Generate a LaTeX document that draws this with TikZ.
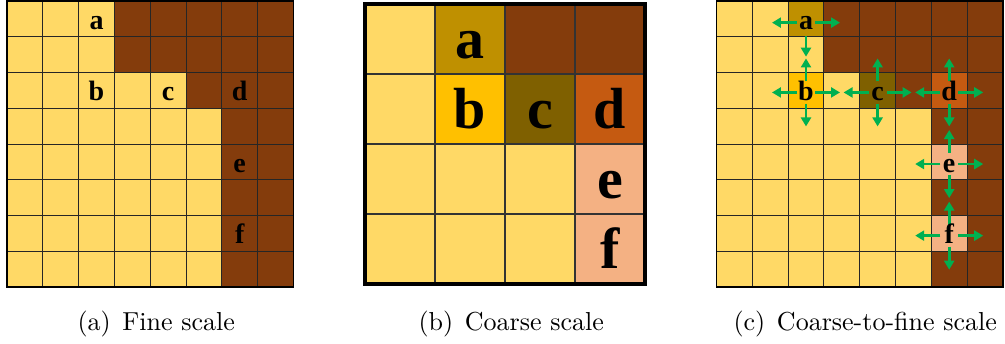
\documentclass[tikz,border=0pt]{standalone}
\usepackage{fontspec}
\newfontfamily\cellfont{Liberation Serif}
\usetikzlibrary{arrows.meta,calc}
\definecolor{ylw}{HTML}{FFD966}
\definecolor{brn}{HTML}{843C0C}
\definecolor{aclr}{HTML}{BF9000}
\definecolor{bclr}{HTML}{FFC000}
\definecolor{cclr}{HTML}{7F6000}
\definecolor{dclr}{HTML}{C55A11}
\definecolor{eclr}{HTML}{F4B183}
\definecolor{grn}{HTML}{00B050}
\begin{document}
\begin{tikzpicture}[x=1pt,y=-1pt,
  gridline/.style={draw=black!85, line width=0.9pt},
  frame/.style={draw=black, line width=1.6pt},
  letsmall/.style={font=\cellfont\bfseries\fontsize{28}{30}\selectfont, inner sep=0pt, anchor=base},
  letbig/.style={font=\cellfont\bfseries\fontsize{58}{60}\selectfont, inner sep=0pt, anchor=base},
  garrow/.style={draw=grn, line width=2.8pt, -{Triangle[length=9pt,width=10pt]}},
  caption/.style={scale=2.6, anchor=base west, inner sep=0pt}]
\useasboundingbox (0,0) rectangle (1005,344);
\fill[white] (0,0) rectangle (1005,344);

% ---------- (a) Fine scale ----------
\begin{scope}[shift={(7,0.8)}, x=35.8pt, y=-35.8pt]
  \fill[ylw] (0,0) rectangle (8,8);
  \fill[brn] (3,0) -- (8,0) -- (8,8) -- (6,8) -- (6,3) -- (5,3) -- (5,2) -- (3,2) -- cycle;
  \foreach \i in {1,...,7} {
    \draw[gridline] (\i,0) -- (\i,8);
    \draw[gridline] (0,\i) -- (8,\i);
  }
  \draw[frame] (0,0) rectangle (8,8);
  \node[letsmall] (Aa) at (2.5,0.79) {a};
  \node[letsmall] (Ab) at (2.5,2.79) {b};
  \node[letsmall] (Ac) at (4.5,2.79) {c};
  \node[letsmall] (Ad) at (6.5,2.79) {d};
  \node[letsmall] (Ae) at (6.5,4.79) {e};
  \node[letsmall] (Af) at (6.5,6.79) {f};
\end{scope}

% ---------- (b) Coarse scale ----------
\begin{scope}[shift={(365,4)}, x=70pt, y=-70pt]
  \fill[ylw] (0,0) rectangle (4,4);
  \fill[aclr] (1,0) rectangle (2,1);
  \fill[brn] (2,0) rectangle (4,1);
  \fill[bclr] (1,1) rectangle (2,2);
  \fill[cclr] (2,1) rectangle (3,2);
  \fill[dclr] (3,1) rectangle (4,2);
  \fill[eclr] (3,2) rectangle (4,4);
  \foreach \i in {1,2,3} {
    \draw[draw=black!80, line width=1.8pt] (\i,0) -- (\i,4);
    \draw[draw=black!80, line width=1.8pt] (0,\i) -- (4,\i);
  }
  \draw[draw=black, line width=3.2pt] (0,0) rectangle (4,4);
  \node[letbig] (Ba) at (1.5,0.78) {a};
  \node[letbig] (Bb) at (1.5,1.78) {b};
  \node[letbig] (Bc) at (2.5,1.78) {c};
  \node[letbig] (Bd) at (3.5,1.78) {d};
  \node[letbig] (Be) at (3.5,2.78) {e};
  \node[letbig] (Bf) at (3.5,3.78) {f};
\end{scope}

% ---------- (c) Coarse-to-fine scale ----------
\begin{scope}[shift={(716.5,0.8)}, x=35.8pt, y=-35.8pt]
  \fill[ylw] (0,0) rectangle (8,8);
  \fill[brn] (3,0) -- (8,0) -- (8,8) -- (6,8) -- (6,3) -- (5,3) -- (5,2) -- (3,2) -- cycle;
  \fill[aclr] (2,0) rectangle (3,1);
  \fill[bclr] (2,2) rectangle (3,3);
  \fill[cclr] (4,2) rectangle (5,3);
  \fill[dclr] (6,2) rectangle (7,3);
  \fill[eclr] (6,4) rectangle (7,5);
  \fill[eclr] (6,6) rectangle (7,7);
  \foreach \i in {1,...,7} {
    \draw[gridline] (\i,0) -- (\i,8);
    \draw[gridline] (0,\i) -- (8,\i);
  }
  \draw[frame] (0,0) rectangle (8,8);
  \coordinate (Ca) at (2.5,0.61);
  \coordinate (Cb) at (2.5,2.56);
  \coordinate (Cc) at (4.5,2.56);
  \coordinate (Cd) at (6.5,2.56);
  \coordinate (Ce) at (6.5,4.56);
  \coordinate (Cf) at (6.5,6.56);
  \draw[garrow] ($(Ca)+(-0.25,0)$) -- ($(Ca)+(-0.95,0)$);
  \draw[garrow] ($(Ca)+(0.25,0)$) -- ($(Ca)+(0.95,0)$);
  \draw[garrow] ($(Ca)+(0,0.36)$) -- ($(Ca)+(0,0.95)$);
  \foreach \n in {Cb,Cc,Cd,Ce,Cf} {
    \draw[garrow] ($(\n)+(-0.25,0)$) -- ($(\n)+(-0.95,0)$);
    \draw[garrow] ($(\n)+(0.25,0)$) -- ($(\n)+(0.95,0)$);
    \draw[garrow] ($(\n)+(0,-0.31)$) -- ($(\n)+(0,-0.95)$);
    \draw[garrow] ($(\n)+(0,0.31)$) -- ($(\n)+(0,0.95)$);
  }
  \node[letsmall] (Xa) at (2.5,0.79) {a};
  \node[letsmall] (Xb) at (2.5,2.79) {b};
  \node[letsmall] (Xc) at (4.5,2.79) {c};
  \node[letsmall] (Xd) at (6.5,2.79) {d};
  \node[letsmall] (Xe) at (6.5,4.79) {e};
  \node[letsmall] (Xf) at (6.5,6.79) {f};
\end{scope}

% ---------- captions ----------
\node[caption] (capa) at (77,331) {(a)\hspace{0.45em}Fine scale};
\node[caption] (capb) at (418,331) {(b)\hspace{0.45em}Coarse scale};
\node[caption] (capc) at (733,331) {(c)\hspace{0.45em}Coarse-to-fine scale};
\end{tikzpicture}
\end{document}
